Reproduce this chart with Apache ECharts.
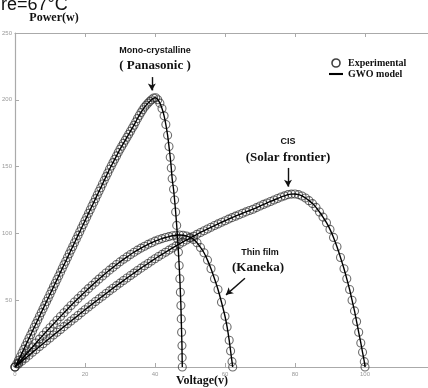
<!DOCTYPE html>
<html>
<head>
<meta charset="utf-8">
<script src="https://cdn.jsdelivr.net/npm/echarts@6/dist/echarts.min.js"></script>
<style>
html,body{margin:0;padding:0;background:#fff;}
#chart{width:428px;height:388px;}
</style>
</head>
<body>
<div id="chart"></div>
<script>
// Mono-crystalline (Panasonic): [voltage, power]
var panasonic = [[0,0],[0.5,2.5],[1,5],[1.5,7.7],[2,10.5],[2.5,13.2],[3,16],[3.5,18.7],[4,21.5],[4.5,24.2],[5,27],[5.5,29.7],[6,32.5],[6.5,35.2],[7,38],[7.5,40.7],[8,43.5],[8.5,46.2],[9,49],[9.5,51.7],[10,54.5],[10.5,57.2],[11,60],[11.5,62.7],[12,65.5],[12.5,68.2],[13,71],[13.5,73.7],[14,76.5],[14.5,79.2],[15,82],[15.5,84.7],[16,87.5],[16.5,90.2],[17,93],[17.5,95.7],[18,98.5],[18.5,101.2],[19,104],[19.5,106.7],[20,109.5],[20.5,112.2],[21,115],[21.5,117.7],[22,120.5],[22.5,123.2],[23,126],[23.5,128.7],[24,131.5],[24.5,134.2],[25,137],[25.5,139.7],[26,142.5],[26.5,145.2],[27,148],[27.5,150.5],[28,153],[28.5,155.5],[29,158],[29.5,160.5],[30,163],[30.5,165.2],[31,167.5],[31.5,169.7],[32,172],[32.5,174.2],[33,176.5],[33.5,178.8],[34,181],[34.5,183.5],[35,186],[35.5,188.3],[36,190.5],[36.5,192.5],[37,194.5],[37.5,196],[38,197.5],[38.5,198.8],[39,200],[39.6,201.3],[40.2,201.5],[40.8,200],[41.4,197.5],[42,193.5],[42.6,188],[43.1,181.5],[43.6,173.5],[44,165],[44.35,157],[44.65,149],[44.9,141],[45.3,133],[45.6,125],[45.9,116],[46.2,106],[46.45,96],[46.7,86],[46.9,76],[47.1,66],[47.25,56],[47.4,46],[47.5,36],[47.6,26],[47.7,16],[47.75,7],[47.8,0]];
// Thin film (Kaneka)
var kaneka = [[0,0],[1,3],[2,6],[3,9],[4,12],[5,15],[6,18],[7,20.9],[8,23.8],[9,26.6],[10,29.4],[11,32.2],[12,35],[13,37.8],[14,40.6],[15,43.3],[16,46],[17,48.6],[18,51.2],[19,53.7],[20,56.2],[21,58.7],[22,61.1],[23,63.5],[24,65.8],[25,68.1],[26,70.4],[27,72.5],[28,74.6],[29,76.7],[30,78.7],[31,80.6],[32,82.4],[33,84.2],[34,85.9],[35,87.5],[36,89],[37,90.4],[38,91.8],[39,93],[40,94.2],[41,95.2],[42,96.1],[43,96.9],[44,97.6],[45,98.2],[46,98.6],[47,98.8],[48,98.6],[49,98],[50,97],[51,95.5],[52,93],[53,89.5],[54,85.5],[55,80],[56,73.5],[57,66],[58,58],[59,48.5],[60,38],[60.6,30],[61.2,20],[61.6,12],[62,4],[62.2,0]];
// CIS (Solar frontier)
var cis = [[0,0],[1,2.2],[2,4.4],[3,6.6],[4,8.8],[5,11],[6,13.1],[7,15.3],[8,17.4],[9,19.6],[10,21.7],[11,23.9],[12,26],[13,28.1],[14,30.2],[15,32.3],[16,34.4],[17,36.5],[18,38.6],[19,40.7],[20,42.8],[21,44.9],[22,47],[23,49],[24,51],[25,53],[26,55],[27,57],[28,59],[29,60.9],[30,62.8],[31,64.7],[32,66.6],[33,68.5],[34,70.3],[35,72.2],[36,74],[37,75.8],[38,77.5],[39,79.3],[40,81],[41,82.7],[42,84.3],[43,85.9],[44,87.5],[45,89.1],[46,90.6],[47,92.1],[48,93.6],[49,95.1],[50,96.5],[51,97.9],[52,99.3],[53,100.7],[54,102],[55,103.3],[56,104.6],[57,105.9],[58,107.1],[59,108.3],[60,109.5],[61,110.7],[62,111.8],[63,112.9],[64,114],[65,115.1],[66,116.1],[67,117.1],[68,118.1],[69,119.3],[70,120.5],[71,121.7],[72,122.8],[73,123.9],[74,125],[75,126.1],[76,127.2],[77,128.1],[78,129],[79,129.4],[80,129.5],[81,129],[82,128],[83,126.5],[84,124.5],[85,122.3],[86,119.5],[87,116],[88,112.2],[89,108],[90,103],[91,97],[92,90],[93,82],[94,73.5],[94.8,66],[95.6,58],[96.3,50],[97,42],[97.6,34],[98.2,26],[98.8,18],[99.3,11],[99.8,4],[100,0]];
var xTicks = [0,20,40,60,80,100,120];
var yTicks = [0,50,100,150,200,250];

// arrows [from, to] in data coordinates
var arrowPanasonic = [[39.1,217],[39.1,207]];
var arrowCIS = [[78,149],[78,135]];
var arrowKaneka = [[65.7,66.5],[60.3,54]];

var chart = echarts.init(document.getElementById('chart'));
var circleStyle = {color:'rgba(0,0,0,0)', borderColor:'rgba(40,40,40,0.85)', borderWidth:1.1};
var lineStyle = {color:'#000', width:1.4};
function scatter(d){ return {type:'scatter', name:'Experimental', data:d, symbol:'circle', symbolSize:8, itemStyle:circleStyle, z:2, silent:true}; }
function model(d, arrow){
  var s = {type:'line', name:'GWO model', data:d, symbol:'none', smooth:0.2, lineStyle:lineStyle, itemStyle:{color:'#000'}, z:3, silent:true};
  if (arrow) {
    s.markLine = {silent:true, symbol:['none','arrow'], symbolSize:[6,7], label:{show:false},
      lineStyle:{color:'#111', width:1.4, type:'solid'},
      data:[[{coord:arrow[0]},{coord:arrow[1]}]]};
  }
  return s;
}
var axisLineStyle = {color:'#aaa', width:1.2};
function txt(x,y,t,size,serif){
  return {type:'text', x:x, y:y, style:{text:t, x:0, y:0, textAlign:'center', textVerticalAlign:'middle',
    font:'bold '+size+'px '+(serif?'"Liberation Serif"':'"Liberation Sans"'), fill:'#111'}};
}
chart.setOption({
  animation:false,
  backgroundColor:'#fff',
  grid:{left:15, top:33, bottom:21, right:-7, outerBoundsMode:'none', containLabel:false},
  legend:{orient:'vertical', left:329, top:58, padding:0, itemWidth:14, itemHeight:8, itemGap:1,
    textStyle:{fontFamily:'Liberation Serif', fontWeight:'bold', fontSize:10, lineHeight:10, color:'#111'},
    data:[{name:'Experimental', icon:'circle', itemStyle:{color:'rgba(0,0,0,0)', borderColor:'#111', borderWidth:1.6}},
          {name:'GWO model', icon:'path://M0,0 L20,0 L20,3 L0,3 Z', itemStyle:{color:'#000'}}]},
  xAxis:[
    {type:'value', min:xTicks[0], max:xTicks[xTicks.length-1], interval:20, position:'bottom',
     axisLine:{lineStyle:axisLineStyle}, axisTick:{inside:true, length:4, lineStyle:{color:'#aaa'}},
     axisLabel:{fontSize:6, color:'#999', margin:4, showMaxLabel:false, fontFamily:'Liberation Sans'}, splitLine:{show:false}},
    {type:'value', min:xTicks[0], max:xTicks[xTicks.length-1], interval:20, position:'top',
     axisLine:{lineStyle:axisLineStyle}, axisTick:{inside:true, length:4, lineStyle:{color:'#aaa'}},
     axisLabel:{show:false}, splitLine:{show:false}}
  ],
  yAxis:{type:'value', min:yTicks[0], max:yTicks[yTicks.length-1], interval:50,
     axisLine:{show:true, lineStyle:axisLineStyle}, axisTick:{show:true, inside:true, length:4, lineStyle:{color:'#aaa'}},
     axisLabel:{fontSize:6, color:'#999', margin:3, showMinLabel:false, fontFamily:'Liberation Sans'}, splitLine:{show:false}},
  graphic:[
    {type:'text', x:1, y:14, style:{text:'re=67°C', font:'18px "Liberation Sans"', fill:'#111', textVerticalAlign:'bottom'}},
    txt(54,18,'Power(w)',12,true),
    txt(202,381,'Voltage(v)',12,true),
    txt(155,51,'Mono-crystalline',9,false),
    txt(155,66,'( Panasonic )',13,true),
    txt(288,142,'CIS',9,false),
    txt(288,158,'(Solar frontier)',13,true),
    txt(260,253,'Thin film',9,false),
    txt(258,268,'(Kaneka)',13,true)
  ],
  series:[scatter(panasonic), scatter(kaneka), scatter(cis),
          model(panasonic, arrowPanasonic), model(kaneka, arrowKaneka), model(cis, arrowCIS)]
});
</script>
</body>
</html>
